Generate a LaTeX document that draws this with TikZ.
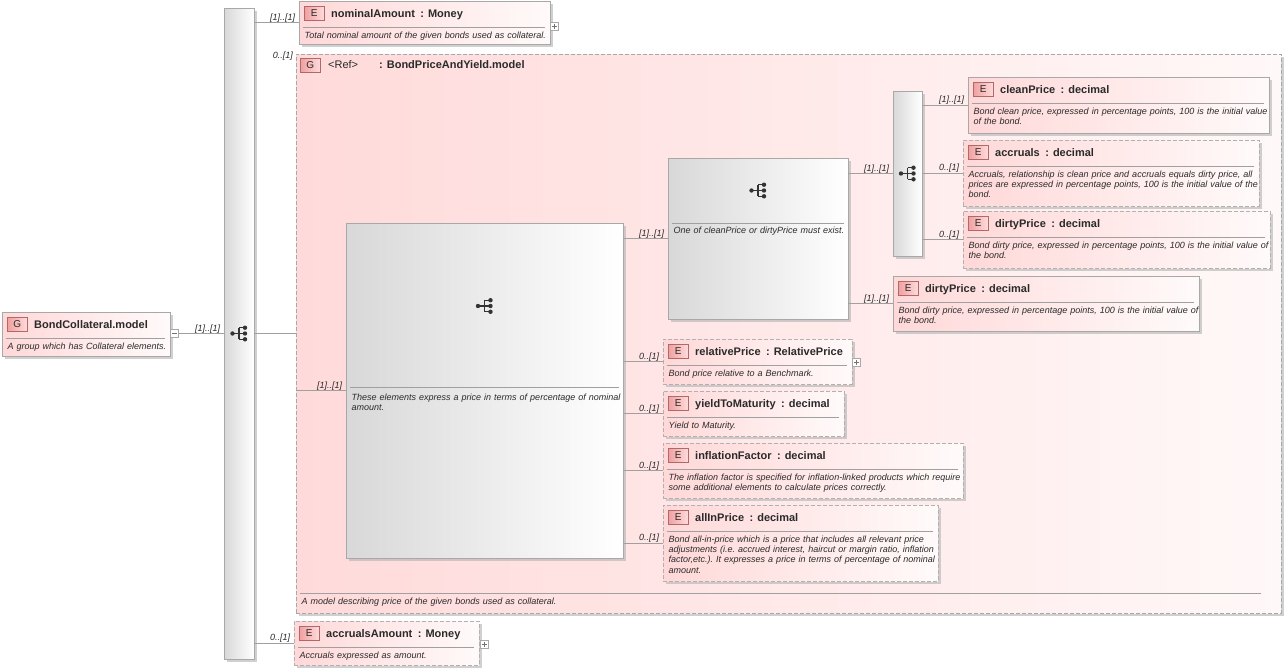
\documentclass[tikz,border=0pt]{standalone}
\usepackage{fontspec}
\setmainfont{Liberation Sans}
\usetikzlibrary{fit,shadows}
\frenchspacing
\definecolor{bordc}{HTML}{A8A8A8}
\definecolor{linec}{HTML}{A0A0A0}
\definecolor{pinkL}{HTML}{FFD8D8}
\definecolor{pinkR}{HTML}{FFFAFA}
\definecolor{grpL}{HTML}{FFDADA}
\definecolor{grpR}{HTML}{FFF8F8}
\definecolor{grayL}{HTML}{D8D8D8}
\definecolor{iconc}{HTML}{333333}
\definecolor{badgeL}{HTML}{F0A0A0}
\definecolor{badgeR}{HTML}{FFDCDC}
\definecolor{badgeB}{HTML}{B06868}
\definecolor{txtc}{HTML}{2A2A2A}
\newcommand{\Csep}{\hspace{5.5pt}:\hspace{4pt}}
\tikzset{
 x=1pt, y=-1pt,
 shad/.style={drop shadow={shadow xshift=2.5pt, shadow yshift=-2.5pt, fill=black!30, opacity=0.6}},
 elem/.style={shad, draw=bordc, left color=pinkL, right color=pinkR, inner sep=0pt, line width=0.8pt},
 optelem/.style={elem, draw=bordc!90, dash pattern=on 4pt off 2pt},
 grpbox/.style={shad, draw=bordc, left color=grpL, right color=grpR, inner sep=0pt, line width=0.9pt, dash pattern=on 4pt off 2pt},
 seqbox/.style={shad, draw=bordc, left color=grayL, right color=white, inner sep=0pt, line width=0.8pt},
 badge/.style={draw=badgeB, left color=badgeL, right color=badgeR, minimum width=20pt, minimum height=14pt, inner sep=0pt, font=\fontsize{10}{10}\selectfont, text=txtc},
 ttl/.style={anchor=base west, inner sep=0pt, font=\fontsize{11}{13}\selectfont\bfseries, text=txtc},
 rtl/.style={anchor=base west, inner sep=0pt, font=\fontsize{11}{13}\selectfont, text=txtc},
 dsc/.style={anchor=base west, inner sep=0pt, font=\fontsize{9}{10.4}\selectfont\itshape, text=txtc, align=left, text width=#1},
 lbl/.style={inner sep=0pt, font=\fontsize{9}{10}\selectfont\itshape, text=txtc},
 occ/.style={lbl, anchor=base east, xshift=-3pt, yshift=2.5pt},
 conn/.style={draw=linec, line width=0.8pt},
 sepl/.style={draw=linec, line width=0.8pt},
 pmbox/.style={draw=bordc, fill=white, minimum size=8pt, inner sep=0pt, line width=0.6pt},
 pmsign/.style={draw=black!55, line width=0.5pt},
}
\newcommand{\Elem}[9]{%
 \node[#2, fit={(#3,#4)(#5,#6)}] (#1) {};
 \node[badge, anchor=north west] (#1-b) at (#3+5,#4+5) {#7};
 \node[ttl] (#1-t) at (#3+32,#4+16) {#8};
 \draw[sepl] (#3+4,#4+26) -- (#5-5,#4+26);
 \pgfmathsetmacro\dw{#5-#3-4}
 \node[dsc=\dw pt] (#1-d) at (#3+5.5,#4+37) {#9};
}
\newcommand{\SeqIcon}[1]{%
 \draw[iconc, line width=1.2pt] ([xshift=-6.5pt]#1) -- (#1)
   ([yshift=5.8pt]#1) -- ([yshift=-5.8pt]#1)
   ([yshift=5.8pt]#1) -- ([xshift=6pt,yshift=5.8pt]#1)
   (#1) -- ([xshift=6pt]#1)
   ([yshift=-5.8pt]#1) -- ([xshift=6pt,yshift=-5.8pt]#1);
 \fill[iconc] ([xshift=-6.5pt]#1) circle[radius=2.2pt]
   ([xshift=6pt,yshift=5.8pt]#1) circle[radius=2.2pt]
   ([xshift=6pt]#1) circle[radius=2.2pt]
   ([xshift=6pt,yshift=-5.8pt]#1) circle[radius=2.2pt];
}
\newcommand{\PlusBox}[3]{%
 \node[pmbox] (#1) at (#2,#3) {};
 \draw[pmsign] ([xshift=-2.5pt]#1.center) -- ([xshift=2.5pt]#1.center)
   ([yshift=-2.5pt]#1.center) -- ([yshift=2.5pt]#1.center);
}
\newcommand{\MinusBox}[3]{%
 \node[pmbox] (#1) at (#2,#3) {};
 \draw[pmsign] ([xshift=-2.5pt]#1.center) -- ([xshift=2.5pt]#1.center);
}
\begin{document}
\begin{tikzpicture}
\useasboundingbox (0,0) rectangle (1286,672);
\fill[white] (0,0) rectangle (1286,672);

% root group
\Elem{bc}{elem}{2}{312}{170}{356}{G}{BondCollateral.model}{A group which has Collateral elements.}
\MinusBox{bc-m}{174.5}{333.5}

% main sequence
\node[seqbox, fit={(224,8)(254,659)}] (mseq) {};
\SeqIcon{mseq.center}

% nominalAmount
\Elem{nom}{elem}{299}{1}{550}{44}{E}{nominalAmount\Csep Money}{Total nominal amount of the given bonds used as collateral.}
\PlusBox{nom-p}{554.5}{26}

% group reference
\node[grpbox, fit={(296,54)(1281,613)}] (grp) {};
\node[badge, anchor=north west] (grp-b) at (300,58) {G};
\node[rtl] (grp-r) at (328,68) {<Ref>};
\node[ttl] (grp-t) at (379,68) {:\hspace{4pt}BondPriceAndYield.model};
\draw[sepl] (300,593) -- (1261,593);
\node[dsc=900pt] (grp-d) at (301.5,604) {A model describing price of the given bonds used as collateral.};
\node[lbl, anchor=north east] (grp-o) at (293,52) {0..[1]};

% big sequence
\node[seqbox, fit={(346,223)(623,558)}] (bseq) {};
\coordinate (bseq-i) at (484.5,306);
\SeqIcon{bseq-i}
\draw[sepl] (350,387) -- (619,387);
\node[dsc=270pt] (bseq-d) at (351.5,400) {These elements express a price in terms of percentage of nominal\\amount.};

% choice
\node[seqbox, fit={(668,158)(848,319)}] (chc) {};
\coordinate (chc-i) at (758,190.5);
\SeqIcon{chc-i}
\draw[sepl] (672,223) -- (844,223);
\node[dsc=175pt] (chc-d) at (673.5,233) {One of cleanPrice or dirtyPrice must exist.};

% inner sequence
\node[seqbox, fit={(893,91)(922,256)}] (seq2) {};
\SeqIcon{seq2.center}

% elements
\Elem{cp}{elem}{968}{77}{1269}{133}{E}{cleanPrice\Csep decimal}{Bond clean price, expressed in percentage points, 100 is the initial value\\of the bond.}
\Elem{acr}{optelem}{963}{140}{1259}{206}{E}{accruals\Csep decimal}{Accruals, relationship is clean price and accruals equals dirty price, all\\prices are expressed in percentage points, 100 is the initial value of the\\bond.}
\Elem{dp1}{optelem}{963}{211}{1270}{268}{E}{dirtyPrice\Csep decimal}{Bond dirty price, expressed in percentage points, 100 is the initial value of\\the bond.}
\Elem{dp2}{elem}{893}{276}{1199}{331}{E}{dirtyPrice\Csep decimal}{Bond dirty price, expressed in percentage points, 100 is the initial value of\\the bond.}
\Elem{rp}{optelem}{663}{339}{852}{384}{E}{relativePrice\Csep RelativePrice}{Bond price relative to a Benchmark.}
\PlusBox{rp-p}{856.5}{362}
\Elem{ytm}{optelem}{663}{391}{844}{436}{E}{yieldToMaturity\Csep decimal}{Yield to Maturity.}
\Elem{inf}{optelem}{663}{443}{963}{498}{E}{inflationFactor\Csep decimal}{The inflation factor is specified for inflation-linked products which require\\some additional elements to calculate prices correctly.}
\Elem{aip}{optelem}{663}{505}{938}{581}{E}{allInPrice\Csep decimal}{Bond all-in-price which is a price that includes all relevant price\\adjustments (i.e. accrued interest, haircut or margin ratio, inflation\\factor,etc.). It expresses a price in terms of percentage of nominal\\amount.}
\Elem{acc}{optelem}{294}{621}{479}{665}{E}{accrualsAmount\Csep Money}{Accruals expressed as amount.}
\PlusBox{acc-p}{484}{644}

% connectors
\draw[conn] (bc-m.east) -- (bc-m.east -| mseq.west) node[occ] {[1]..[1]};
\draw[conn] (mseq.east |- nom.west) -- (nom.west) node[occ] {[1]..[1]};
\draw[conn] (mseq.east |- grp.west) -- (grp.west);
\draw[conn] (mseq.east |- acc.west) -- (acc.west) node[occ] {0..[1]};
\draw[conn] (grp.west |- bseq.west) -- (bseq.west) node[occ] {[1]..[1]};
\draw[conn] (bseq.east |- chc.west) -- (chc.west) node[occ] {[1]..[1]};
\draw[conn] (chc.east |- seq2.west) -- (seq2.west) node[occ] {[1]..[1]};
\draw[conn] (seq2.east |- cp.west) -- (cp.west) node[occ] {[1]..[1]};
\draw[conn] (seq2.east |- acr.west) -- (acr.west) node[occ] {0..[1]};
\draw[conn] (seq2.east |- dp1.west) -- (dp1.west) node[occ] {0..[1]};
\draw[conn] (chc.east |- dp2.west) -- (dp2.west) node[occ] {[1]..[1]};
\draw[conn] (bseq.east |- rp.west) -- (rp.west) node[occ] {0..[1]};
\draw[conn] (bseq.east |- ytm.west) -- (ytm.west) node[occ] {0..[1]};
\draw[conn] (bseq.east |- inf.west) -- (inf.west) node[occ] {0..[1]};
\draw[conn] (bseq.east |- aip.west) -- (aip.west) node[occ] {0..[1]};
\end{tikzpicture}
\end{document}
